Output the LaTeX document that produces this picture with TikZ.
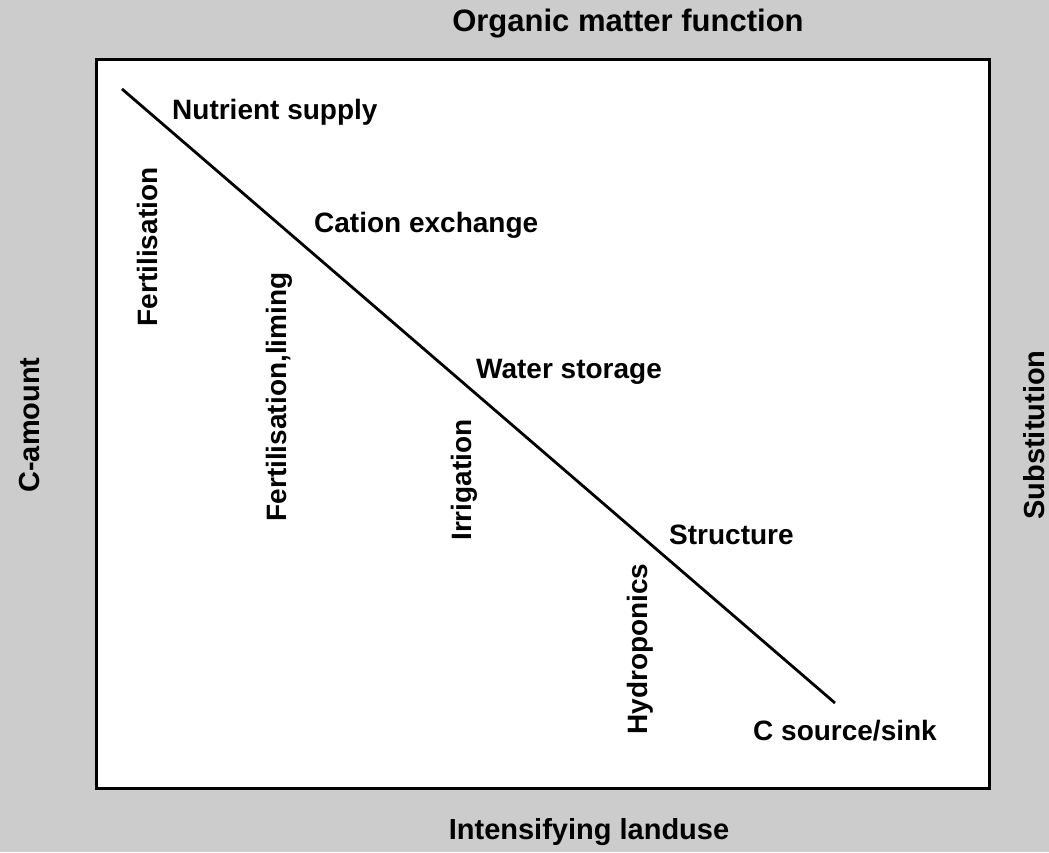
\documentclass[tikz,border=0pt]{standalone}
\usepackage{fontspec}
\setmainfont{Liberation Sans}
\definecolor{bggray}{HTML}{CCCCCC}
\begin{document}
\begin{tikzpicture}[x=1pt,y=-1pt,
  lbl/.style={font=\fontsize{28}{32}\selectfont\bfseries, inner sep=0pt},
  outer/.style={font=\fontsize{29}{33}\selectfont\bfseries, inner sep=0pt},
  lft/.style={lbl, anchor=west},
  vert/.style={lbl, rotate=90}]
\fill[bggray] (0,0) rectangle (1049,852);
\useasboundingbox (0,0) rectangle (1049,852);
\draw[line width=3pt, fill=white] (96,59) rectangle (989,788);
\coordinate (ls) at (122,89);
\coordinate (le) at (835,703);
\draw[line width=2.8pt] (ls) -- (le);
\node[outer, font=\fontsize{31}{35}\selectfont\bfseries] (title) at (628,24) {Organic matter function};
\node[outer] (xlab) at (589,832) {Intensifying landuse};
\node[outer, rotate=90] (ylab) at (30,425) {C-amount};
\node[outer, rotate=90] (rlab) at (1034,435) {Substitution};
\node[lft] (nut) at (172,112) {Nutrient supply};
\node[lft] (cat) at (314,225) {Cation exchange};
\node[lft] (wat) at (476,372) {Water storage};
\node[lft] (str) at (669,535) {Structure};
\node[lft] (csrc) at (753,731) {C source/sink};
\node[vert] (fert) at (147,247) {Fertilisation};
\node[vert] (fertl) at (279,397) {Fertilisation,liming};
\node[vert] (irr) at (464,480) {Irrigation};
\node[vert] (hyd) at (640,649) {Hydroponics};
\end{tikzpicture}
\end{document}
